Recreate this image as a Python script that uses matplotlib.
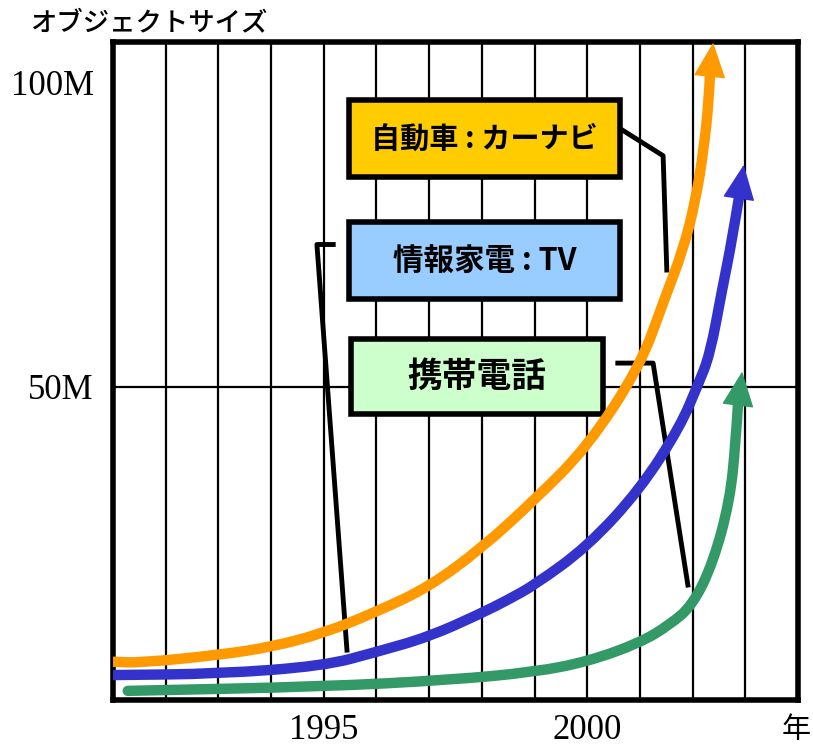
import matplotlib.pyplot as plt
from matplotlib.patches import Rectangle, PathPatch
from matplotlib.path import Path

plt.rcParams['font.family'] = ['Noto Sans CJK JP', 'DejaVu Sans']

# x: year, y: object size in M
car_x = [1991.0, 1991.5, 1993.0, 1994.0, 1995.0, 1996.0, 1997.0, 1998.0,
         1999.0, 2000.0, 2001.0, 2001.46, 2001.82, 2002.06, 2002.21, 2002.31, 2002.33]
car_y = [4.8, 4.6, 5.9, 7.2, 9.5, 13.0, 17.1, 23.5,
         31.4, 40.1, 53.3, 64.3, 72.5, 80.8, 89.0, 97.2, 101.6]
car_tip = (2002.39, 106.6)

tv_x = [1991.0, 1993.0, 1995.0, 1996.0, 1997.0, 1998.0, 1998.5, 1999.0,
        2000.0, 2001.0, 2001.76, 2002.1, 2002.33, 2002.56, 2002.75, 2002.88]
tv_y = [2.6, 2.8, 4.1, 6.4, 8.9, 12.8, 15.0, 17.4,
        23.7, 33.1, 43.4, 50.3, 55.3, 66.0, 74.2, 81.2]
tv_tip = (2002.97, 86.5)

phone_x = [1991.28, 1995.0, 1997.4, 1999.0, 2000.0, 2001.0, 2001.57, 2002.0,
           2002.39, 2002.71, 2002.82, 2002.86]
phone_y = [0.0, 0.7, 1.8, 3.1, 4.8, 7.9, 10.9, 14.1,
           21.1, 31.4, 41.3, 47.0]
phone_tip = (2002.94, 52.5)

orange = "#FF9900"
blue = "#3333CC"
green = "#339966"


def smooth_path(xs, ys):
    # quadratic bezier through midpoints, using the read points as controls
    pts = list(zip(xs, ys))
    verts = [pts[0]]
    codes = [Path.MOVETO]
    mid = ((pts[0][0] + pts[1][0]) / 2, (pts[0][1] + pts[1][1]) / 2)
    verts.append(mid)
    codes.append(Path.LINETO)
    for i in range(1, len(pts) - 1):
        nxt = ((pts[i][0] + pts[i + 1][0]) / 2, (pts[i][1] + pts[i + 1][1]) / 2)
        if i == len(pts) - 2:
            nxt = pts[-1]
        verts += [pts[i], nxt]
        codes += [Path.CURVE3, Path.CURVE3]
    return Path(verts, codes)


fig = plt.figure(figsize=(8.13, 7.48), dpi=100)
ax = fig.add_axes([113 / 813, 48 / 748, 685 / 813, 658 / 748])

ax.set_xlim(1991, 2004)
ax.set_ylim(-1.5, 106.7)

# yearly vertical grid lines and one line at 50M
years = list(range(1991, 2005))
ax.set_xticks(years)
ax.set_xticklabels(["1995" if y == 1995 else "2000" if y == 2000 else "" for y in years],
                   family="Liberation Serif", fontsize=25)
ax.set_yticks([50, 100])
ax.set_yticklabels(["50M", "100M"], family="Liberation Serif", fontsize=25)
ax.tick_params(length=0, pad=14)
ax.tick_params(axis="x", pad=10)
ax.grid(True, axis="x", color="black", lw=1.6, zorder=1)
ax.axhline(50, color="black", lw=1.6, zorder=1)
ax.set_axisbelow(True)
for s in ax.spines.values():
    s.set_linewidth(4)

# callout lines
ax.plot([2000.56, 2001.44, 2001.51], [92.8, 88.0, 69.2], color="black", lw=3.5, zorder=2)
ax.plot([1995.18, 1994.87, 1995.44], [73.4, 73.4, 6.7], color="black", lw=3.5, zorder=2)
ax.plot([2000.58, 2001.25, 2001.91], [53.9, 53.9, 17.4], color="black", lw=3.5, zorder=2)

# label boxes
boxes = [
    (1995.47, 2000.63, 84.5, 97.1, "#FFCC00", "自動車 : カーナビ", 21),
    (1995.47, 2000.63, 64.4, 77.1, "#99CCFF", "情報家電 : TV", 22),
    (1995.51, 2000.29, 45.5, 57.8, "#CCFFCC", "携帯電話", 25),
]
for x0, x1, y0, y1, fc, label, fs in boxes:
    ax.add_patch(Rectangle((x0, y0), x1 - x0, y1 - y0, facecolor=fc,
                           edgecolor="black", lw=4, zorder=3))
    ax.text((x0 + x1) / 2, (y0 + y1) / 2, label, ha="center", va="center",
            fontsize=fs, fontweight="bold", zorder=4)

# growth curves with arrow heads
for xs, ys, tip, c in [(car_x, car_y, car_tip, orange),
                       (tv_x, tv_y, tv_tip, blue),
                       (phone_x, phone_y, phone_tip, green)]:
    ax.add_patch(PathPatch(smooth_path(xs, ys), facecolor="none", edgecolor=c,
                           lw=7.5, capstyle="round", joinstyle="round", zorder=5))
    ax.annotate("", xy=tip, xytext=(xs[-1], ys[-1]),
                arrowprops=dict(arrowstyle="-|>,head_length=2.3,head_width=1.05",
                                mutation_scale=10, color=c, lw=1,
                                shrinkA=0, shrinkB=0),
                zorder=6, annotation_clip=False)

fig.text(30 / 813, 1 - 23 / 748, "オブジェクトサイズ", fontsize=19,
         ha="left", va="center", fontweight="medium")
fig.text(811 / 813, 1 - 730 / 748, "年", fontsize=21, ha="right", va="center")

fig.savefig("out.png", dpi=100)
